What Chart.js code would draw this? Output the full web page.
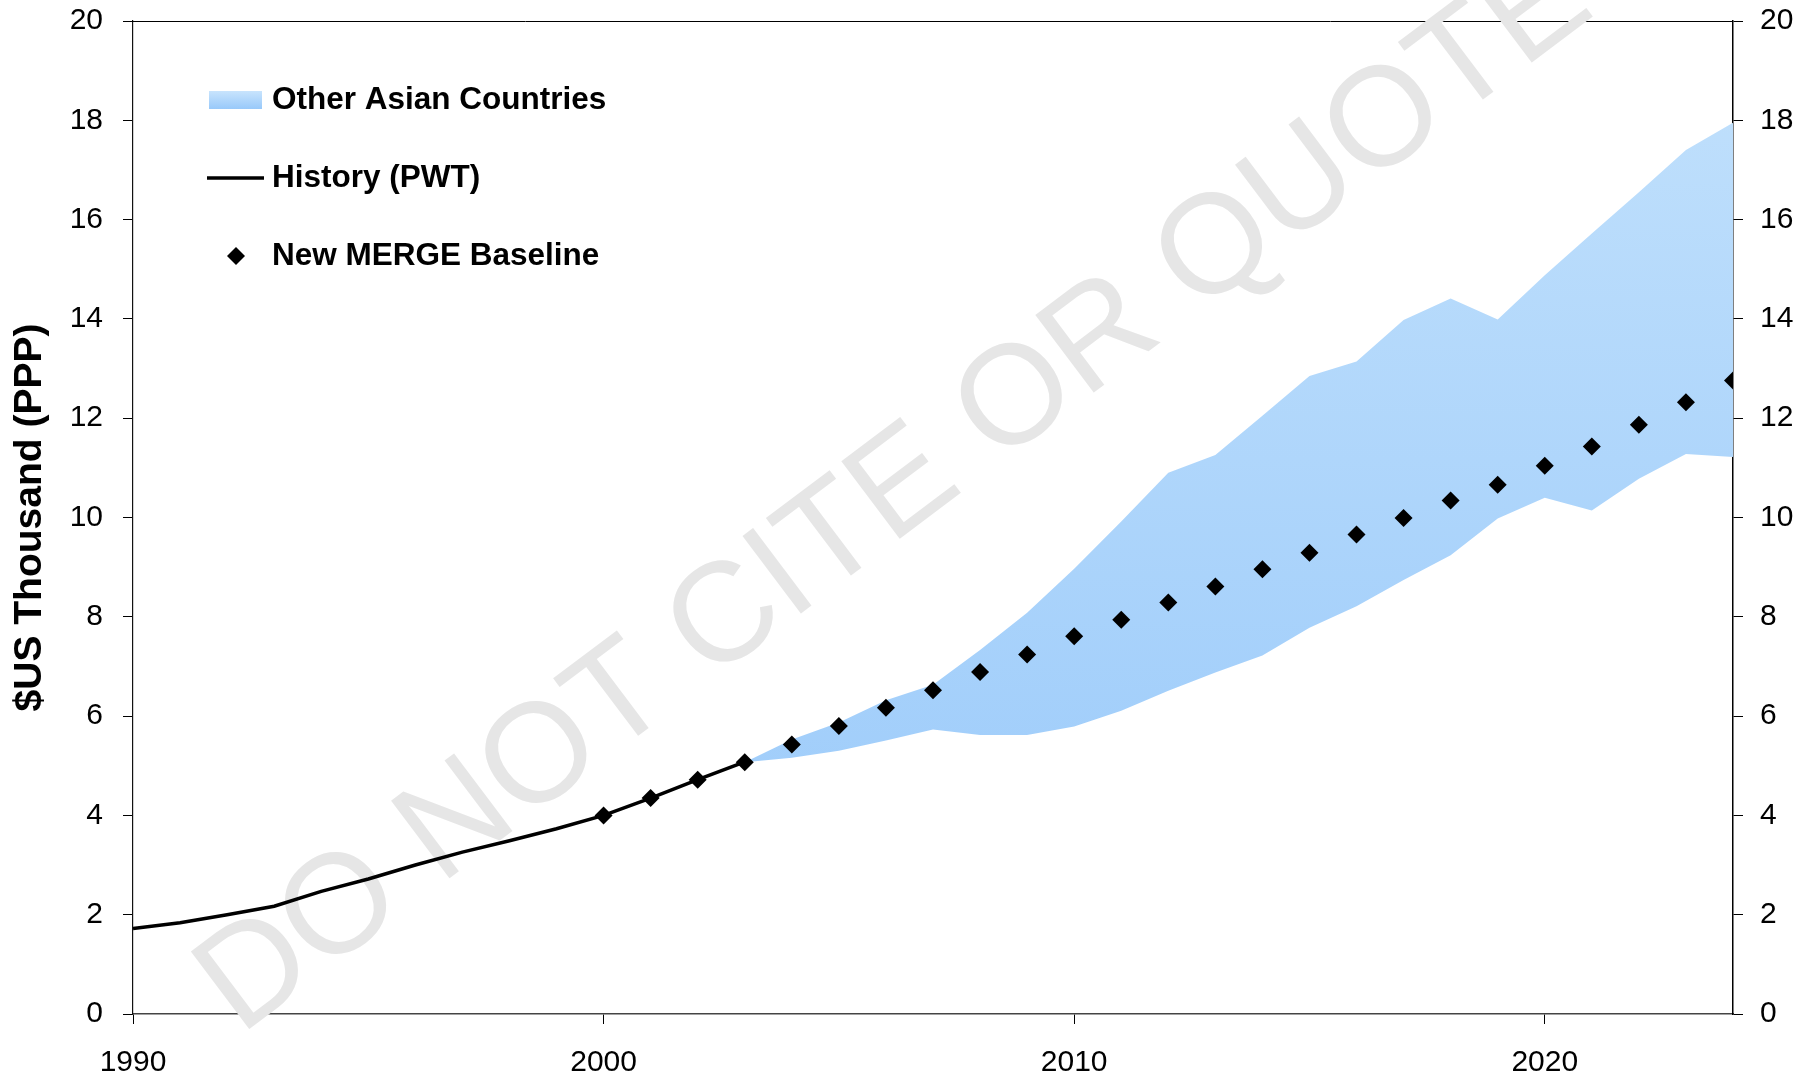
<!DOCTYPE html>
<html>
<head>
<meta charset="utf-8">
<script src="https://cdn.jsdelivr.net/npm/chart.js@4.4.1/dist/chart.umd.min.js"></script>
<style>
  html, body { margin: 0; padding: 0; background: #fff; }
  canvas { display: block; }
</style>
</head>
<body>
<canvas id="gdpChart" width="1814" height="1079"></canvas>
<script>
// values, thousand $US (PPP)
const historyYears = [1990, 1991, 1992, 1993, 1994, 1995, 1996, 1997, 1998, 1999, 2000, 2001, 2002, 2003];
const historyValues = [1.72, 1.84, 2.00, 2.17, 2.47, 2.72, 3.00, 3.26, 3.49, 3.73, 4.00, 4.35, 4.72, 5.08];

const baselineYears = [2000, 2001, 2002, 2003, 2004, 2005, 2006, 2007, 2008, 2009, 2010, 2011, 2012,
                       2013, 2014, 2015, 2016, 2017, 2018, 2019, 2020, 2021, 2022, 2023, 2024];
const baselineValues = [4.00, 4.35, 4.72, 5.07, 5.43, 5.80, 6.17, 6.52, 6.89, 7.24, 7.61, 7.94, 8.29,
                        8.61, 8.96, 9.29, 9.66, 9.99, 10.34, 10.66, 11.04, 11.43, 11.87, 12.32, 12.76];

// range of the other Asian countries
const bandYears = [2003, 2004, 2005, 2006, 2007, 2008, 2009, 2010, 2011, 2012, 2013,
                   2014, 2015, 2016, 2017, 2018, 2019, 2020, 2021, 2022, 2023, 2024];
const bandHigh = [5.07, 5.53, 5.87, 6.32, 6.63, 7.33, 8.08, 8.97, 9.92, 10.90, 11.26,
                  12.05, 12.85, 13.14, 13.98, 14.41, 13.99, 14.88, 15.72, 16.55, 17.40, 17.95];
const bandLow = [5.07, 5.16, 5.30, 5.51, 5.73, 5.62, 5.62, 5.79, 6.11, 6.51, 6.88,
                 7.22, 7.78, 8.21, 8.74, 9.24, 9.98, 10.40, 10.14, 10.78, 11.28, 11.22];

const xTicks = [1990, 2000, 2010, 2020];
const yTicks = [0, 2, 4, 6, 8, 10, 12, 14, 16, 18, 20];

const FONT = "'Liberation Sans', Arial, Helvetica, sans-serif";
Chart.defaults.font.family = FONT;
Chart.defaults.color = '#000';

const toXY = (xs, ys) => xs.map((x, i) => ({ x: x, y: ys[i] }));

function bandFill(context) {
  const chart = context.chart;
  const a = chart.chartArea;
  if (!a) return 'rgb(175,214,251)';
  const g = chart.ctx.createLinearGradient(0, a.top, 0, a.bottom);
  g.addColorStop(0, 'rgb(194,225,252)');
  g.addColorStop(1, 'rgb(151,200,250)');
  return g;
}

// top frame line + "DO NOT CITE OR QUOTE" stamp, under the data
const stamp = {
  id: 'stamp',
  beforeDatasetsDraw(chart) {
    const c = chart.ctx;
    const a = chart.chartArea;
    c.save();
    c.strokeStyle = '#000';
    c.lineWidth = 1;
    c.beginPath();
    c.moveTo(a.left - 10, a.top + 0.5);
    c.lineTo(a.right, a.top + 0.5);
    c.stroke();

    c.translate(240, 1036);
    c.rotate(-37 * Math.PI / 180);
    c.font = '141px ' + FONT;
    c.fillStyle = '#e6e6e6';
    c.textBaseline = 'alphabetic';
    c.fillText('DO NOT CITE OR QUOTE', 0, 0);
    c.restore();
  }
};

// legend inside the plot, top left
const insideLegend = {
  id: 'insideLegend',
  afterDraw(chart) {
    const c = chart.ctx;
    const rows = [100, 178, 256];
    const items = chart.data.datasets.filter(d => d.label);
    c.save();
    c.font = 'bold 31.5px ' + FONT;
    c.textBaseline = 'middle';
    items.forEach((d, i) => {
      const y = rows[i];
      if (d.mark === 'box') {
        const g = c.createLinearGradient(0, y - 9, 0, y + 9);
        g.addColorStop(0, 'rgb(200,228,253)');
        g.addColorStop(1, 'rgb(152,201,250)');
        c.fillStyle = g;
        c.fillRect(209, y - 9, 53, 18);
      } else if (d.mark === 'line') {
        c.strokeStyle = '#000';
        c.lineWidth = 3.5;
        c.beginPath();
        c.moveTo(207, y);
        c.lineTo(264, y);
        c.stroke();
      } else {
        c.fillStyle = '#000';
        c.beginPath();
        c.moveTo(236, y - 9);
        c.lineTo(245, y);
        c.lineTo(236, y + 9);
        c.lineTo(227, y);
        c.closePath();
        c.fill();
      }
      c.fillStyle = '#000';
      c.fillText(d.label, 272, y);
    });
    c.restore();
  }
};

const tickFont = { size: 30 };

new Chart(document.getElementById('gdpChart').getContext('2d'), {
  type: 'line',
  data: {
    datasets: [
      {
        label: 'Other Asian Countries',
        mark: 'box',
        data: toXY(bandYears, bandHigh),
        fill: '+1',
        backgroundColor: bandFill,
        borderColor: 'rgba(0,0,0,0)',
        borderWidth: 0,
        pointRadius: 0,
        order: 3
      },
      {
        data: toXY(bandYears, bandLow),
        fill: false,
        borderColor: 'rgba(0,0,0,0)',
        borderWidth: 0,
        pointRadius: 0,
        order: 4
      },
      {
        label: 'History (PWT)',
        mark: 'line',
        data: toXY(historyYears, historyValues),
        fill: false,
        borderColor: '#000',
        borderWidth: 3.5,
        pointRadius: 0,
        order: 2
      },
      {
        label: 'New MERGE Baseline',
        mark: 'diamond',
        data: toXY(baselineYears, baselineValues),
        showLine: false,
        fill: false,
        pointStyle: 'rectRot',
        pointRadius: 9,
        pointBackgroundColor: '#000',
        pointBorderColor: '#000',
        pointBorderWidth: 0,
        order: 1
      }
    ]
  },
  options: {
    responsive: false,
    animation: false,
    devicePixelRatio: 1,
    layout: { padding: { top: 21, right: 0, bottom: 0, left: 0 } },
    plugins: {
      legend: { display: false },
      tooltip: { enabled: false },
      filler: { drawTime: 'beforeDatasetDraw' }
    },
    scales: {
      x: {
        type: 'linear',
        position: 'bottom',
        min: 1990,
        max: 2024,
        offset: false,
        afterBuildTicks: s => { s.ticks = xTicks.map(v => ({ value: v })); },
        afterFit: s => { s.height = 65; s.paddingLeft = 0; s.paddingRight = 0; },
        ticks: { font: tickFont, color: '#000', padding: 21, maxRotation: 0, callback: v => String(v) },
        grid: { drawOnChartArea: false, drawTicks: true, tickLength: 10, tickColor: '#000' },
        border: { display: true, color: '#444', width: 1.5 }
      },
      y: {
        type: 'linear',
        position: 'left',
        min: 0,
        max: 20,
        afterBuildTicks: s => { s.ticks = yTicks.map(v => ({ value: v })); },
        afterFit: s => { s.width = 133; s.paddingTop = 0; s.paddingBottom = 0; },
        ticks: { font: tickFont, color: '#000', padding: 20 },
        grid: { drawOnChartArea: false, drawTicks: true, tickLength: 10, tickColor: '#000' },
        border: { display: true, color: '#111', width: 1.2 },
        title: {
          display: true,
          text: '$US Thousand (PPP)',
          color: '#000',
          font: { size: 39, weight: 'bold' },
          padding: { top: 7, bottom: 0 }
        }
      },
      y2: {
        type: 'linear',
        position: 'right',
        min: 0,
        max: 20,
        afterBuildTicks: s => { s.ticks = yTicks.map(v => ({ value: v })); },
        afterFit: s => { s.width = 81; s.paddingTop = 0; s.paddingBottom = 0; },
        ticks: { font: tickFont, color: '#000', padding: 17 },
        grid: { drawOnChartArea: false, drawTicks: true, tickLength: 10, tickColor: '#000' },
        border: { display: true, color: '#000', width: 1.5 }
      }
    }
  },
  plugins: [stamp, insideLegend]
});
</script>
</body>
</html>
